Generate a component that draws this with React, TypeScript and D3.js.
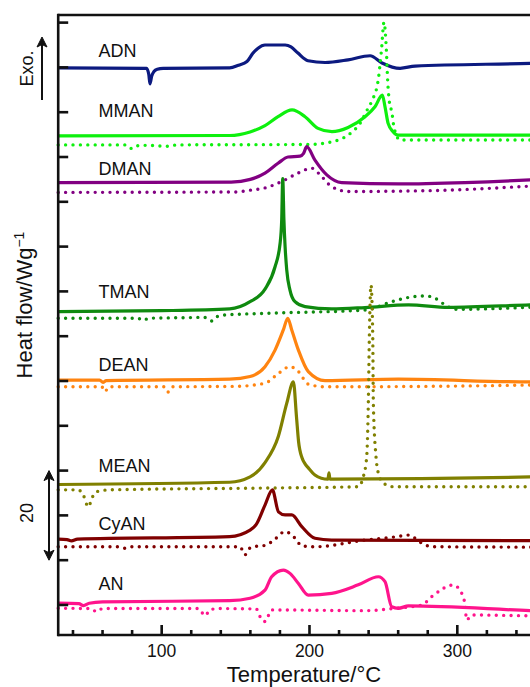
import React from "react";
import * as d3 from "d3";

type Pt = [number, number];

const samples = ["ADN", "MMAN", "DMAN", "TMAN", "DEAN", "MEAN", "CyAN", "AN"];
const colors = ["#0c1a80", "#0ef00e", "#820082", "#0f8a0f", "#ff8410", "#808000", "#800000", "#ff148c"];
const labelTemp = 57.2;
const labelLevel = [132.3, 118.9, 106.0, 78.5, 62.2, 39.7, 26.7, 13.35];

const yTicks = [10, 20, 30, 40, 50, 60, 70, 80, 90, 100, 110, 120, 130, 140];
const xMajorTicks = [100, 200, 300];
const xMinorTicks = [40, 60, 80, 120, 140, 160, 180, 220, 240, 260, 280, 320, 340];

const adnSolid: Pt[] = [[30, 129.9], [89.8, 129.8], [91.3, 128.4], [92.1, 126.3], [93.2, 128.0], [94.8, 129.1], [97, 129.6], [101, 129.8], [146, 129.9], [152, 130.5], [157.7, 131.3], [161.8, 133.2], [165.2, 134.3], [169.9, 135.0], [183.5, 135.0], [187.5, 134.6], [192.2, 133.2], [199, 131.5], [210.5, 131.1], [226.1, 131.7], [241, 132.6], [249.1, 131.0], [261.3, 129.8], [271.4, 130.3], [349.2, 130.9], [360, 131.0]];

const mmanSolid: Pt[] = [[30, 114.7], [146, 114.8], [159.8, 115.6], [169.9, 117.0], [178.7, 119.0], [188.2, 120.5], [197, 119.0], [205.8, 116.4], [215.2, 115.65], [226.1, 116.6], [237.6, 119.0], [244.3, 121.2], [249.3, 123.8], [251.1, 121.2], [253.2, 117.5], [256.5, 115.65], [259.9, 114.9], [360, 114.9]];
const mmanDotted: Pt[] = [[30, 112.7], [76, 112.7], [79.7, 111.9], [83, 112.5], [90, 112.6], [105, 112.4], [110, 112.7], [200, 112.8], [215.2, 113.4], [228.8, 115.6], [234.2, 117.5], [238.7, 120.3], [242.3, 122.6], [246.4, 127], [248.7, 133.9], [250.4, 140.1], [252, 133.9], [252.9, 127], [253.9, 122.7], [255.7, 120], [257.3, 116.4], [261.3, 113.8], [360, 113.8]];

const dmanSolid: Pt[] = [[30, 104.3], [147, 104.4], [160, 105.0], [169.9, 106.4], [178.7, 108.6], [185.5, 110.0], [193.6, 110.2], [196, 110.8], [198.1, 112.3], [203.7, 109.3], [211.7, 106.0], [221.8, 104.3], [260.1, 104.0], [305.2, 104.3], [349.2, 104.9], [360, 105.1]];
const dmanDotted: Pt[] = [[30, 102.1], [150, 102.2], [160, 102.6], [169.9, 103.1], [183.5, 104.9], [192.2, 106.4], [201.5, 107.5], [208.3, 105.6], [215, 103.4], [226.3, 102.3], [282.7, 102.5], [349.2, 103.5], [360, 103.7]];

const tmanSolid: Pt[] = [[30, 75.5], [100, 75.7], [146, 76.1], [159.8, 77.7], [169.9, 80.5], [176.7, 85.5], [180.1, 90.7], [181.2, 96], [181.9, 105.2], [182.7, 96], [183.5, 90.0], [184.6, 84.8], [186.8, 80.3], [190.2, 77.7], [197, 76.6], [215, 76.1], [237.6, 76.4], [266.9, 77.0], [294, 76.45], [349.2, 77.0], [360, 77.1]];
const tmanDotted: Pt[] = [[30, 74.0], [84, 74.0], [87.6, 73.5], [91, 74.0], [125, 74.2], [128, 74.3], [133.9, 73.4], [137, 74.3], [141.5, 74.7], [169.9, 75.1], [237.6, 75.85], [255.6, 77.7], [264.6, 78.5], [278.2, 79.0], [284.9, 78.5], [291.7, 77.0], [298.5, 76.0], [349.2, 76.45], [360, 76.6]];

const deanSolid: Pt[] = [[30, 60.2], [58, 60.2], [60.3, 59.7], [62.5, 60.1], [146, 60.4], [159.8, 61.0], [169.9, 63.2], [176.7, 66.9], [182.3, 71.4], [185.3, 74.0], [188.0, 71.4], [192.5, 66.9], [199.2, 62.1], [210.5, 60.1], [260.1, 60.4], [349.2, 59.8], [360, 59.8]];
const deanDotted: Pt[] = [[30, 58.7], [59.5, 58.7], [61.7, 57.6], [64, 58.7], [101.5, 58.7], [104.1, 57.5], [107, 58.7], [150, 58.8], [169.9, 59.5], [179, 61.7], [186.8, 63.2], [192.5, 62.1], [199.2, 59.3], [210.5, 58.7], [349.2, 59.1], [360, 59.2]];

const meanSolid: Pt[] = [[30, 36.9], [146, 37.4], [159.8, 38.6], [169.9, 41.8], [178.9, 47.6], [184.6, 55.0], [189.1, 59.8], [191.2, 52.0], [192.6, 46.5], [195, 42.8], [197, 41.5], [199.2, 40.6], [203.7, 39.0], [208, 38.3], [212.5, 38.1], [213.2, 39.5], [213.8, 38.1], [215, 38.1], [349.2, 38.6], [360, 38.7]];
const meanDotted: Pt[] = [[30, 35.7], [43.6, 35.7], [47, 34.5], [50.4, 31.9], [53, 34.0], [56, 35.3], [65, 35.7], [169.9, 36.1], [233, 36.4], [236.4, 38.6], [238.7, 43.1], [239.8, 55.0], [240.5, 69.9], [241.6, 81.4], [242.8, 69.9], [243.2, 55.0], [245, 43.1], [246.6, 39.4], [250, 37.2], [256.7, 36.4], [360, 36.4]];

const cyanSolid: Pt[] = [[30, 24.7], [36, 24.6], [39, 24.3], [43, 24.7], [146, 25.25], [159.8, 26.7], [164, 28.0], [169.9, 32.3], [174.9, 35.7], [179, 30.8], [183.5, 30.1], [188, 30.1], [194.8, 27.5], [203.7, 24.9], [215, 24.5], [360, 24.35]];
const cyanDotted: Pt[] = [[30, 23.0], [70, 23.0], [75.2, 22.65], [80, 23.0], [153, 23.0], [156.4, 21.2], [159, 22.5], [161.8, 23.0], [169.9, 23.3], [176, 24.5], [183.5, 26.4], [190, 25.0], [194.8, 23.2], [203.7, 23.0], [237.6, 24.5], [258, 25.2], [266.9, 25.6], [276, 23.8], [282.7, 23.0], [360, 22.9]];

const anSolid: Pt[] = [[30, 10.4], [44, 10.3], [47, 9.85], [51, 10.4], [60, 10.7], [146, 10.96], [159.8, 11.5], [169.9, 13.3], [174.4, 16.3], [182.3, 17.8], [187, 17.0], [192.5, 14.8], [199.2, 12.2], [215, 12.6], [233, 14.5], [246.6, 16.3], [251.1, 15.2], [255.6, 9.6], [260.1, 9.26], [266.9, 9.78], [349.2, 8.73], [360, 8.6]];
const anDotted: Pt[] = [[30, 9.26], [52, 9.2], [56, 8.5], [60, 9.2], [125, 9.2], [129.3, 7.6], [133, 9.0], [140, 9.2], [164, 9.1], [167.7, 6.65], [169.9, 6.3], [172, 7.5], [174.4, 8.9], [237.6, 8.73], [257.9, 9.26], [276, 10.0], [282.7, 11.85], [297.3, 14.46], [303, 12.6], [305.2, 10.0], [306.3, 6.65], [309.7, 7.77], [349.2, 7.6], [360, 7.6]];

const solids: Pt[][] = [adnSolid, mmanSolid, dmanSolid, tmanSolid, deanSolid, meanSolid, cyanSolid, anSolid];
const dotteds: (Pt[] | null)[] = [null, mmanDotted, dmanDotted, tmanDotted, deanDotted, meanDotted, cyanDotted, anDotted];

const W = 530;
const H = 687;
const FONT = "'Liberation Sans', Arial, Helvetica, sans-serif";

export default function App() {
  const x = d3.scaleLinear().domain([30, 360]).range([58.2, 546]);
  const y = d3.scaleLinear().domain([3.3, 141.7]).range([635, 15]);
  const line = d3
    .line<Pt>()
    .x((d) => x(d[0]))
    .y((d) => y(d[1]))
    .curve(d3.curveMonotoneX);

  const left = x(30);
  const right = x(360);
  const top = y(141.7);
  const bottom = y(3.3);

  return (
    <svg width={W} height={H} style={{ position: "absolute", left: 0, top: 0, background: "#fff" }} fontFamily={FONT}>
      <rect x={0} y={0} width={W} height={H} fill="#fff" />
      {samples.map((s, i) => (
        <g key={s}>
          {dotteds[i] && (
            <path
              d={line(dotteds[i] as Pt[]) || ""}
              fill="none"
              stroke={colors[i]}
              strokeWidth={3.4}
              strokeLinecap="round"
              strokeDasharray="0 7.4"
            />
          )}
          <path d={line(solids[i]) || ""} fill="none" stroke={colors[i]} strokeWidth={3.2} strokeLinejoin="round" />
        </g>
      ))}
      {samples.map((s, i) => (
        <text key={"l" + s} x={x(labelTemp)} y={y(labelLevel[i])} fontSize={18} fill="#111">
          {s}
        </text>
      ))}
      <line x1={left} x2={left} y1={top - 1.3} y2={bottom + 1.3} stroke="#111" strokeWidth={2.6} />
      <line x1={left} x2={right} y1={top} y2={top} stroke="#111" strokeWidth={2.6} />
      <line x1={left} x2={right} y1={bottom} y2={bottom} stroke="#111" strokeWidth={2.6} />
      {yTicks.map((t) => (
        <line key={"yt" + t} x1={left} x2={left + 10} y1={y(t)} y2={y(t)} stroke="#111" strokeWidth={2.6} />
      ))}
      {xMinorTicks.map((t) => (
        <line key={"xm" + t} x1={x(t)} x2={x(t)} y1={bottom} y2={bottom - 5} stroke="#111" strokeWidth={2.6} />
      ))}
      {xMajorTicks.map((t) => (
        <g key={"xM" + t}>
          <line x1={x(t)} x2={x(t)} y1={bottom} y2={bottom - 10} stroke="#111" strokeWidth={2.6} />
          <text x={x(t)} y={657} fontSize={17.5} textAnchor="middle" fill="#111">
            {t}
          </text>
        </g>
      ))}
      <text x={304} y={681.5} fontSize={22} textAnchor="middle" fill="#111">
        Temperature/°C
      </text>
      <text transform="translate(32,305) rotate(-90)" fontSize={22} textAnchor="middle" fill="#111">
        Heat flow/Wg<tspan dy={-8} fontSize={14}>−1</tspan>
      </text>
      <text transform="translate(33,68.5) rotate(-90)" fontSize={18} textAnchor="middle" fill="#111">
        Exo.
      </text>
      <line x1={42} x2={42} y1={100} y2={44} stroke="#111" strokeWidth={2} />
      <path d="M42,37 L37,47 L42,44.5 L47,47 Z" fill="#111" stroke="#111" strokeWidth={1} strokeLinejoin="round" />
      <text transform="translate(33,513) rotate(-90)" fontSize={18} textAnchor="middle" fill="#111">
        20
      </text>
      <line x1={49} x2={49} y1={y(40) + 6} y2={y(20) - 6} stroke="#111" strokeWidth={2} />
      <path d={`M49,${y(40)} L44,${y(40) + 10} L49,${y(40) + 7.5} L54,${y(40) + 10} Z`} fill="#111" stroke="#111" strokeWidth={1} strokeLinejoin="round" />
      <path d={`M49,${y(20)} L44,${y(20) - 10} L49,${y(20) - 7.5} L54,${y(20) - 10} Z`} fill="#111" stroke="#111" strokeWidth={1} strokeLinejoin="round" />
    </svg>
  );
}
